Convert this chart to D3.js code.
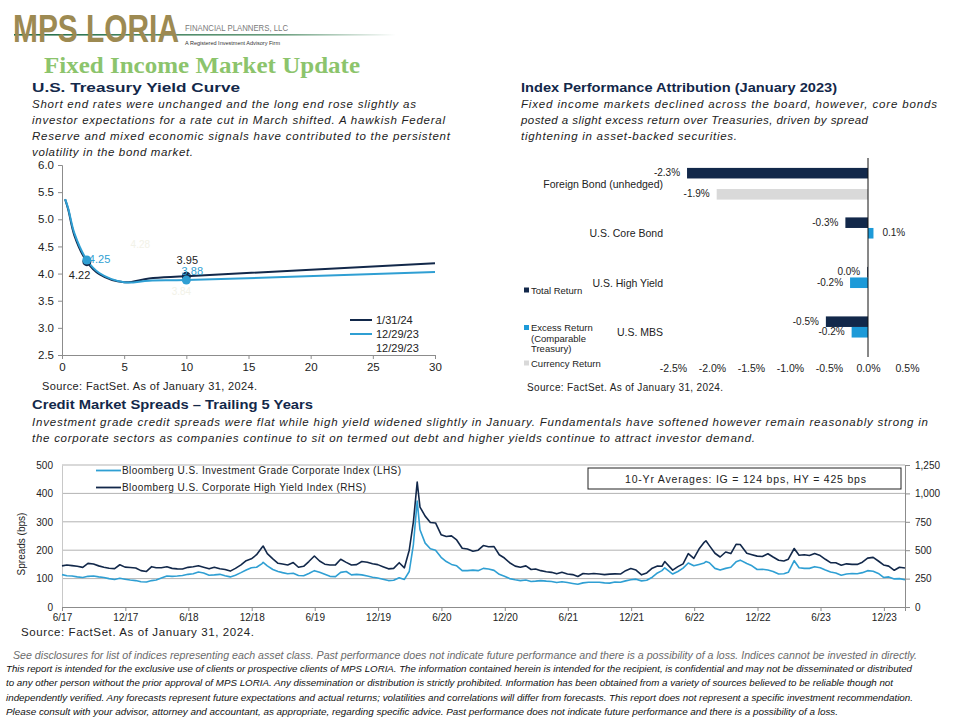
<!DOCTYPE html>
<html>
<head>
<meta charset="utf-8">
<script src="https://cdn.jsdelivr.net/npm/d3@7"></script>
<style>
body { margin: 0; background: #fff; }
svg { display: block; font-family: "Liberation Sans", Arial, sans-serif; }
</style>
</head>
<body>
<svg width="960" height="720"></svg>
<script>
// ---- yield curve data ----
var maturities = [0.25, 0.5, 1, 2, 3, 5, 7, 10, 30];
var yieldsJan = [5.37, 5.18, 4.70, 4.22, 3.99, 3.84, 3.91, 3.95, 4.19];
var yieldsDec = [5.37, 5.20, 4.74, 4.25, 4.01, 3.84, 3.87, 3.88, 4.03];
var curveNames = ["1/31/24", "12/29/23", "12/29/23"];
var yieldTicksY = [2.5, 3.0, 3.5, 4.0, 4.5, 5.0, 5.5, 6.0];
var yieldTicksX = [0, 5, 10, 15, 20, 25, 30];
var markedMaturities = [2, 10];

// ---- index attribution data (%) ----
var barCategories = ["Foreign Bond (unhedged)", "U.S. Core Bond", "U.S. High Yield", "U.S. MBS"];
var totalReturn = [-2.32, -0.29, -0.01, -0.54];
var excessReturn = [null, 0.07, -0.23, -0.21];
var currencyReturn = [-1.94, null, null, null];
var barSeries = ["Total Return", "Excess Return", "Currency Return"];
var barTicks = [-2.5, -2.0, -1.5, -1.0, -0.5, 0.0, 0.5];

// ---- credit spreads data (bps), one line per year ----
var spreadDates = [
  "2017-06-01", "2017-06-15", "2017-06-30", "2017-07-15", "2017-07-31", "2017-08-15", "2017-08-31", "2017-09-15", "2017-09-30", "2017-10-15", "2017-10-31", "2017-11-15", "2017-11-30", "2017-12-15", "2017-12-31",
  "2018-01-15", "2018-01-31", "2018-02-15", "2018-02-28", "2018-03-15", "2018-03-31", "2018-04-15", "2018-04-30", "2018-05-15", "2018-05-31", "2018-06-15", "2018-06-30", "2018-07-15", "2018-07-31", "2018-08-15", "2018-08-31", "2018-09-15", "2018-09-30", "2018-10-15", "2018-10-31", "2018-11-15", "2018-11-30", "2018-12-15", "2018-12-31",
  "2019-01-03", "2019-01-15", "2019-01-31", "2019-02-15", "2019-02-28", "2019-03-15", "2019-03-31", "2019-04-15", "2019-04-30", "2019-05-15", "2019-05-31", "2019-06-15", "2019-06-30", "2019-07-15", "2019-07-31", "2019-08-15", "2019-08-31", "2019-09-15", "2019-09-30", "2019-10-15", "2019-10-31", "2019-11-15", "2019-11-30", "2019-12-15", "2019-12-31",
  "2020-01-15", "2020-01-31", "2020-02-15", "2020-02-29", "2020-03-12", "2020-03-23", "2020-03-31", "2020-04-15", "2020-04-30", "2020-05-15", "2020-05-31", "2020-06-15", "2020-06-30", "2020-07-15", "2020-07-31", "2020-08-15", "2020-08-31", "2020-09-15", "2020-09-30", "2020-10-15", "2020-10-31", "2020-11-15", "2020-11-30", "2020-12-15", "2020-12-31",
  "2021-01-15", "2021-01-31", "2021-02-15", "2021-02-28", "2021-03-15", "2021-03-31", "2021-04-15", "2021-04-30", "2021-05-15", "2021-05-31", "2021-06-15", "2021-06-30", "2021-07-15", "2021-07-31", "2021-08-15", "2021-08-31", "2021-09-15", "2021-09-30", "2021-10-15", "2021-10-31", "2021-11-15", "2021-11-30", "2021-12-15", "2021-12-31",
  "2022-01-15", "2022-01-31", "2022-02-15", "2022-02-28", "2022-03-08", "2022-03-31", "2022-04-15", "2022-04-30", "2022-05-15", "2022-05-31", "2022-06-15", "2022-06-30", "2022-07-05", "2022-07-15", "2022-07-31", "2022-08-15", "2022-08-31", "2022-09-15", "2022-09-30", "2022-10-12", "2022-10-31", "2022-11-15", "2022-11-30", "2022-12-15", "2022-12-31",
  "2023-01-15", "2023-01-31", "2023-02-15", "2023-02-28", "2023-03-17", "2023-03-31", "2023-04-15", "2023-04-30", "2023-05-15", "2023-05-31", "2023-06-15", "2023-06-30", "2023-07-15", "2023-07-31", "2023-08-15", "2023-08-31", "2023-09-15", "2023-09-30", "2023-10-15", "2023-10-31", "2023-11-15", "2023-11-30", "2023-12-15", "2023-12-31",
  "2024-01-15", "2024-01-31"];
var igSpread = [
  114, 110, 109, 106, 104, 108, 109, 106, 104, 100, 97, 101, 98, 95, 93,
  89, 88, 93, 95, 102, 109, 108, 109, 111, 115, 117, 123, 120, 112, 113, 115, 110, 106, 112, 121, 130, 138, 140, 153,
  157, 145, 132, 125, 121, 117, 119, 111, 110, 118, 128, 122, 115, 108, 107, 122, 125, 113, 115, 113, 109, 105, 102, 98, 93,
  94, 103, 97, 125, 220, 373, 272, 225, 205, 200, 175, 160, 150, 145, 128, 128, 130, 128, 136, 134, 129, 115, 108, 100, 96,
  93, 95, 90, 91, 93, 91, 90, 86, 89, 86, 83, 80, 85, 87, 87, 87, 85, 84, 88, 87, 92, 96, 98, 92,
  94, 105, 120, 128, 138, 116, 125, 137, 155, 145, 150, 155, 160, 156, 136, 130, 136, 140, 159, 165, 153, 145, 132, 133, 130,
  125, 116, 117, 122, 163, 138, 136, 136, 142, 138, 130, 123, 120, 112, 116, 118, 117, 121, 128, 126, 118, 104, 106, 99,
  100, 96];
var hySpread = [
  362, 370, 364, 358, 349, 384, 378, 362, 350, 341, 338, 372, 351, 348, 343,
  320, 313, 355, 346, 346, 354, 340, 336, 335, 349, 355, 363, 350, 336, 350, 337, 330, 316, 340, 371, 408, 424, 460, 526,
  537, 470, 423, 385, 378, 370, 391, 350, 358, 400, 449, 405, 377, 370, 371, 420, 393, 370, 373, 400, 394, 380, 373, 355, 336,
  340, 390, 345, 500, 750, 1100, 880, 800, 744, 740, 637, 620, 626, 590, 517, 510, 491, 500, 541, 530, 532, 460, 431, 390, 360,
  350, 362, 330, 335, 320, 310, 305, 292, 305, 290, 285, 268, 295, 291, 295, 290, 285, 289, 292, 290, 320, 338, 325, 283,
  300, 342, 360, 359, 400, 325, 355, 380, 470, 428, 510, 569, 583, 540, 473, 440, 484, 470, 552, 550, 473, 460, 448, 445, 469,
  440, 411, 405, 421, 515, 455, 460, 454, 470, 453, 420, 390, 390, 368, 380, 375, 375, 394, 430, 437, 405, 370, 360, 323,
  350, 344];
var spreadTicksL = [0, 100, 200, 300, 400, 500];
var spreadTicksR = [0, 250, 500, 750, 1000, 1250];
var seriesNames = ["Bloomberg U.S. Investment Grade Corporate Index (LHS)", "Bloomberg U.S. Corporate High Yield Index (RHS)"];

// ---- text ----
var yieldNote = ["Short end rates were  unchanged and the long end rose slightly as",
  "investor expectations for a rate cut in March  shifted. A hawkish Federal",
  "Reserve and mixed economic signals have contributed to the persistent",
  "volatility in the bond market."];
var yieldNoteW = [384, 413, 418, 161];
var attrNote = ["Fixed income markets declined across the board, however,  core bonds",
  "posted a slight excess return over Treasuries, driven by spread",
  "tightening in asset-backed securities."];
var attrNoteW = [416, 347, 216];
var creditNote = ["Investment grade credit spreads were flat while high yield widened slightly in January. Fundamentals have softened however remain reasonably strong in",
  "the corporate sectors as companies continue to sit on termed out debt and higher yields continue to attract investor demand."];
var creditNoteW = [896, 723];
var footLines = ["This report is intended for the exclusive use of clients or prospective clients of MPS LORIA. The information contained herein is intended for the recipient, is confidential and may not be disseminated or distributed",
  "to any other person without the prior approval of MPS LORIA. Any dissemination or distribution is strictly prohibited. Information has been obtained from a variety of sources believed to be reliable though not",
  "independently verified. Any forecasts represent future expectations and actual returns; volatilities and correlations will differ from forecasts. This report does not represent a specific investment recommendation.",
  "Please consult with your advisor, attorney and accountant, as appropriate, regarding specific advice. Past performance does not indicate future performance and there is a possibility of a loss."];
var footW = [906, 887, 907, 832];

var navy = "#12284a";
var lightBlue = "#2f9fd3";
var brightBlue = "#1d9ad8";
var gray = "#d9d9d9";

var loc = d3.formatLocale({decimal: ".", thousands: ",", grouping: [3], currency: ["$", ""], minus: "-"});
var pct = function(v) {
  var s = loc.format(".1f")(v) + "%";
  return s === "-0.0%" ? "0.0%" : s;
};

var svg = d3.select("svg");

var txt = function(g, s, x, y, size, opts) {
  opts = opts || {};
  var t = g.append("text").text(s)
    .attr("x", x).attr("y", y)
    .style("font-size", size + "px")
    .style("fill", opts.fill || "#222");
  if (opts.weight) t.style("font-weight", opts.weight);
  if (opts.italic) t.style("font-style", "italic");
  if (opts.anchor) t.attr("text-anchor", opts.anchor);
  if (opts.family) t.style("font-family", opts.family);
  if (opts.len) t.attr("textLength", opts.len).attr("lengthAdjust", opts.adjust || "spacing");
  return t;
};

// ---- header ----
var grad = svg.append("defs").append("linearGradient").attr("id", "fade");
grad.append("stop").attr("offset", "0%").attr("stop-color", "#1f6b45");
grad.append("stop").attr("offset", "70%").attr("stop-color", "#6a9e7e");
grad.append("stop").attr("offset", "100%").attr("stop-color", "#ffffff");
svg.append("rect").attr("x", 14).attr("y", 34).attr("width", 382).attr("height", 1.6).style("fill", "url(#fade)");
// logo word, stretched vertically to the reference's letter height
txt(svg, "MPS LORIA", 0, 0, 30, {fill: "#9d8a52", weight: "bold", len: 166, adjust: "spacingAndGlyphs"})
  .attr("transform", "translate(13,42) scale(1,1.3)");
txt(svg, "FINANCIAL PLANNERS, LLC", 185, 31, 9.5, {fill: "#7a7a7a", len: 103, adjust: "spacingAndGlyphs"});
txt(svg, "A Registered Investment Advisory Firm", 185, 44.5, 5.5, {fill: "#333", len: 95, adjust: "spacingAndGlyphs"});
txt(svg, "Fixed Income Market Update", 44, 73, 24, {fill: "#8cc46c", weight: "bold", family: "'Liberation Serif', serif", len: 316, adjust: "spacingAndGlyphs"});

txt(svg, "U.S. Treasury Yield Curve", 32, 92, 13.5, {fill: "#13284a", weight: "bold", len: 208, adjust: "spacingAndGlyphs"});
yieldNote.forEach(function(l, i) {
  txt(svg, l, 32, 108 + i * 16, 11.5, {italic: true, len: yieldNoteW[i]});
});
txt(svg, "Index Performance Attribution (January 2023)", 521, 92, 13.5, {fill: "#13284a", weight: "bold", len: 316, adjust: "spacingAndGlyphs"});
attrNote.forEach(function(l, i) {
  txt(svg, l, 521, 108 + i * 16, 11.5, {italic: true, len: attrNoteW[i]});
});

// ---- yield curve chart ----
var gy = svg.append("g");
var xY = d3.scaleLinear().domain([0, 30]).range([62, 435]);
var yY = d3.scaleLinear().domain([2.5, 6.0]).range([355, 165]);

gy.append("g").attr("transform", "translate(62,0)")
  .call(d3.axisLeft(yY).tickValues(yieldTicksY).tickFormat(loc.format(".1f")).tickSize(4).tickPadding(4))
  .call(function(a) {
    a.selectAll("path,line").attr("stroke", "#8c8c8c");
    a.selectAll("text").style("font-size", "11.5px").style("fill", "#222").style("font-family", "Liberation Sans");
  });
gy.append("g").attr("transform", "translate(0,355)")
  .call(d3.axisBottom(xY).tickValues(yieldTicksX).tickSize(4).tickPadding(4))
  .call(function(a) {
    a.selectAll("path,line").attr("stroke", "#8c8c8c");
    a.selectAll("text").style("font-size", "11.5px").style("fill", "#222").style("font-family", "Liberation Sans");
  });

var curveLine = d3.line()
  .x(function(d) { return xY(d[0]); })
  .y(function(d) { return yY(d[1]); })
  .curve(d3.curveCatmullRom.alpha(0.5));

var curves = [
  {name: curveNames[0], vals: yieldsJan, color: navy},
  {name: curveNames[1], vals: yieldsDec, color: lightBlue}
];
curves.forEach(function(c) {
  gy.append("path")
    .datum(d3.zip(maturities, c.vals))
    .attr("d", curveLine)
    .attr("fill", "none")
    .attr("stroke", c.color)
    .attr("stroke-width", 2);
});
curves.forEach(function(c) {
  markedMaturities.forEach(function(m) {
    var v = c.vals[maturities.indexOf(m)];
    gy.append("circle").attr("cx", xY(m)).attr("cy", yY(v)).attr("r", 4.5).style("fill", c.color);
  });
});
// point labels
var vJ2 = yieldsJan[maturities.indexOf(2)], vD2 = yieldsDec[maturities.indexOf(2)];
var vJ10 = yieldsJan[maturities.indexOf(10)], vD10 = yieldsDec[maturities.indexOf(10)];
txt(gy, loc.format(".2f")(vD2), xY(2) + 2, yY(vD2) + 3, 11, {fill: lightBlue});
txt(gy, loc.format(".2f")(vJ2), xY(2) - 18, yY(vJ2) + 17, 11, {fill: "#222"});
txt(gy, loc.format(".2f")(vJ10), xY(10) + 1, yY(vJ10) - 12.5, 11, {fill: "#222", anchor: "middle"});
txt(gy, loc.format(".2f")(vD10), xY(10) + 6, yY(vD10) - 4.8, 11, {fill: lightBlue, anchor: "middle"});
txt(gy, "4.28", xY(6.3), yY(4.47), 10, {fill: "#f2f2e8", anchor: "middle"});
txt(gy, "3.84", xY(9.6), yY(3.61), 10, {fill: "#f2f2e8", anchor: "middle"});

// legend
[navy, lightBlue, null].forEach(function(col, i) {
  var ly = 320 + i * 14;
  if (col) gy.append("line").attr("x1", 350).attr("x2", 372).attr("y1", ly).attr("y2", ly)
    .attr("stroke", col).attr("stroke-width", 2);
  txt(gy, curveNames[i], 376, ly + 4, 11, {fill: "#222"});
});
txt(svg, "Source: FactSet. As of January 31, 2024.", 42, 390, 11, {len: 215});

// ---- attribution bar chart ----
var gb = svg.append("g");
var xB = d3.scaleLinear().domain([-2.5, 0.5]).range([673, 907]);
var yB = d3.scaleBand().domain(barCategories).range([159, 357]).paddingInner(0.36).paddingOuter(0.18);
var ySub = d3.scaleBand().domain(barSeries).range([0, yB.bandwidth()]);
var barColors = d3.scaleOrdinal().domain(barSeries).range([navy, brightBlue, gray]);

var rows = [];
barCategories.forEach(function(c, i) {
  [totalReturn[i], excessReturn[i], currencyReturn[i]].forEach(function(v, j) {
    if (v !== null) rows.push({cat: c, series: barSeries[j], value: v});
  });
});

gb.selectAll("rect.bar").data(rows).enter().append("rect")
  .attr("class", "bar")
  .attr("x", function(d) { return xB(Math.min(0, d.value)); })
  .attr("y", function(d) { return yB(d.cat) + ySub(d.series); })
  .attr("width", function(d) { return Math.abs(xB(d.value) - xB(0)); })
  .attr("height", ySub.bandwidth())
  .style("fill", function(d) { return barColors(d.series); });

gb.selectAll("text.val").data(rows).enter().append("text")
  .attr("class", "val")
  .text(function(d) { return pct(d.value); })
  .attr("x", function(d) { return d.value < 0 ? xB(d.value) - 7 : xB(d.value) + 9; })
  .attr("y", function(d) { return yB(d.cat) + ySub(d.series) + ySub.bandwidth() / 2 + 3; })
  .attr("text-anchor", function(d) { return d.value < 0 ? "end" : "start"; })
  .style("font-size", "10px").style("fill", "#222");

gb.append("line").attr("x1", xB(0)).attr("x2", xB(0)).attr("y1", 158).attr("y2", 357)
  .attr("stroke", "#111").attr("stroke-width", 1);

gb.selectAll("text.cat").data(barCategories).enter().append("text")
  .attr("class", "cat")
  .text(function(d) { return d; })
  .attr("x", 663)
  .attr("y", function(d) { return yB(d) + yB.bandwidth() / 2 + 4; })
  .attr("text-anchor", "end")
  .style("font-size", "10.5px").style("fill", "#222");

gb.append("g").attr("transform", "translate(0,357)")
  .call(d3.axisBottom(xB).tickValues(barTicks).tickFormat(pct).tickSize(0).tickPadding(8))
  .call(function(a) {
    a.select(".domain").remove();
    a.selectAll("text").style("font-size", "10.5px").style("fill", "#222").style("font-family", "Liberation Sans");
  });

// bar legend
var legRows = [[barSeries[0]], [barSeries[1], "(Comparable", "Treasury)"], [barSeries[2]]];
var legY = [290, 327.5, 363];
legRows.forEach(function(r, i) {
  gb.append("rect").attr("x", 524).attr("y", legY[i] - 2.5).attr("width", 5).attr("height", 5)
    .style("fill", barColors(barSeries[i]));
  r.forEach(function(s, k) {
    txt(gb, s, 531, legY[i] + 3.5 + k * 10.5, 9.5, {fill: "#222"});
  });
});
txt(svg, "Source: FactSet. As of January 31, 2024.", 527, 391, 10, {len: 196});

// ---- credit spreads ----
txt(svg, "Credit Market Spreads \u2013 Trailing 5 Years", 32, 409, 13.5, {fill: "#13284a", weight: "bold", len: 281, adjust: "spacingAndGlyphs"});
creditNote.forEach(function(l, i) {
  txt(svg, l, 32, 426 + i * 16, 11.5, {italic: true, len: creditNoteW[i]});
});

var gc = svg.append("g");
var parse = d3.timeParse("%Y-%m-%d");
var dates = spreadDates.map(parse);
var xC = d3.scaleTime().domain([parse("2017-06-01"), parse("2024-01-31")]).range([62, 905]);
var yL = d3.scaleLinear().domain([0, 500]).range([607, 465]);
var yR = d3.scaleLinear().domain([0, 1250]).range([607, 465]);

gc.selectAll("line.grid").data(spreadTicksL.slice(1)).enter().append("line")
  .attr("class", "grid")
  .attr("x1", 62).attr("x2", 905)
  .attr("y1", function(d) { return yL(d); }).attr("y2", function(d) { return yL(d); })
  .attr("stroke", "#b3b3b3").attr("stroke-width", 1);

gc.append("g").attr("transform", "translate(62,0)")
  .call(d3.axisLeft(yL).tickValues(spreadTicksL).tickSize(0).tickPadding(9))
  .call(function(a) {
    a.select(".domain").attr("stroke", "#c8c8c8");
    a.selectAll("text").style("font-size", "10px").style("fill", "#222").style("font-family", "Liberation Sans");
  });
gc.append("g").attr("transform", "translate(905,0)")
  .call(d3.axisRight(yR).tickValues(spreadTicksR).tickFormat(loc.format(",")).tickSize(5).tickPadding(5))
  .call(function(a) {
    a.selectAll("path,line").attr("stroke", "#8c8c8c");
    a.selectAll("text").style("font-size", "10px").style("fill", "#222").style("font-family", "Liberation Sans");
  });
gc.append("g").attr("transform", "translate(0,607)")
  .call(d3.axisBottom(xC).tickValues(d3.timeMonth.range(parse("2017-06-01"), parse("2024-01-31"), 6))
    .tickFormat(d3.timeFormat("%-m/%y")).tickSize(4).tickPadding(3))
  .call(function(a) {
    a.selectAll("path,line").attr("stroke", "#8c8c8c");
    a.selectAll("text").style("font-size", "10px").style("fill", "#222").style("font-family", "Liberation Sans");
  });

var igLine = d3.line().x(function(d, i) { return xC(dates[i]); }).y(function(d) { return yL(d); });
var hyLine = d3.line().x(function(d, i) { return xC(dates[i]); }).y(function(d) { return yR(d); });
gc.append("path").datum(igSpread).attr("d", igLine)
  .attr("fill", "none").attr("stroke", lightBlue).attr("stroke-width", 1.6).attr("stroke-linejoin", "round");
gc.append("path").datum(hySpread).attr("d", hyLine)
  .attr("fill", "none").attr("stroke", navy).attr("stroke-width", 1.6).attr("stroke-linejoin", "round");

// legend
[lightBlue, navy].forEach(function(col, i) {
  var ly = 470.5 + i * 17;
  gc.append("line").attr("x1", 96).attr("x2", 121).attr("y1", ly).attr("y2", ly)
    .attr("stroke", col).attr("stroke-width", 1.8);
  txt(gc, seriesNames[i], 122, ly + 3.5, 10, {len: i === 0 ? 279 : 244});
});
gc.append("rect").attr("x", 588).attr("y", 468).attr("width", 313).attr("height", 21)
  .style("fill", "#fff").style("stroke", "#222").style("stroke-width", 1);
txt(gc, "10-Yr Averages: IG = 124 bps, HY = 425 bps", 745.5, 482.5, 10.5, {anchor: "middle", len: 241});

txt(gc, "Spreads (bps)", 0, 0, 10, {anchor: "middle"})
  .attr("transform", "translate(25,544) rotate(-90)");
txt(svg, "Source: FactSet. As of January 31, 2024.", 21, 636, 11.5, {len: 233});

// ---- footer ----
txt(svg, "See disclosures for list of indices representing each asset class. Past performance does not indicate future performance and there is a possibility of a loss. Indices cannot be invested in directly.",
  13, 659, 10.5, {italic: true, fill: "#6b6b6b", len: 904, adjust: "spacingAndGlyphs"});
footLines.forEach(function(l, i) {
  txt(svg, l, 6, 671.5 + i * 14.5, 9.5, {italic: true, fill: "#111", len: footW[i], adjust: "spacingAndGlyphs"});
});
</script>
</body>
</html>
